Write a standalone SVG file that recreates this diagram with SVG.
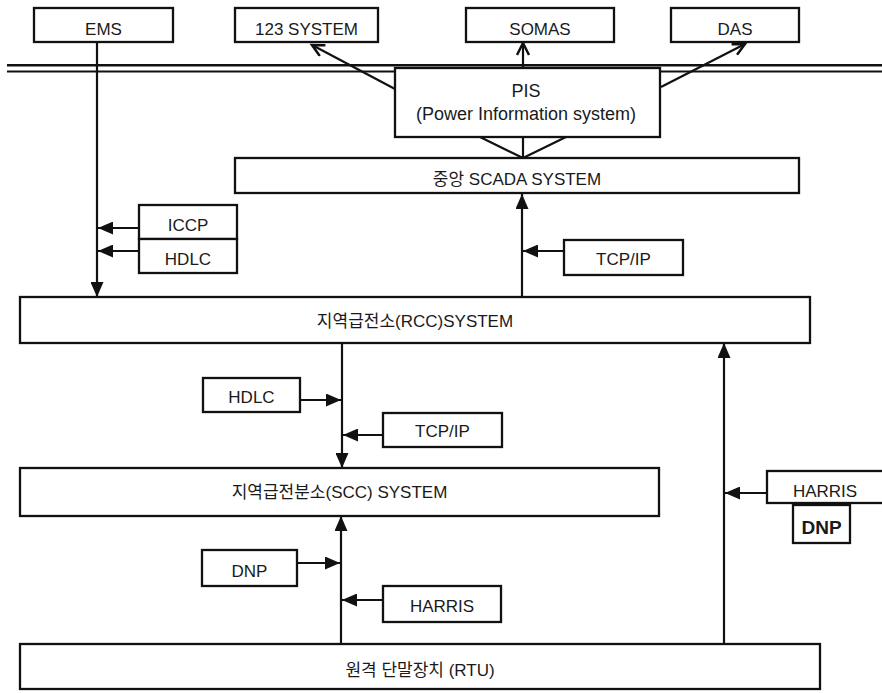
<svg xmlns="http://www.w3.org/2000/svg" width="882" height="693" viewBox="0 0 882 693">
<style>
.box{fill:#fff;stroke:#111;stroke-width:2.3}
.t{font-family:"Liberation Sans","Noto Sans CJK KR",sans-serif;font-size:17px;fill:#1a1a1a;text-anchor:middle}
.k{font-size:17px}
.c{stroke:#111;stroke-width:2.2;fill:none}
.bus{stroke:#111;fill:none}
</style>
<defs>
<marker id="fa" markerUnits="userSpaceOnUse" markerWidth="15" markerHeight="13" refX="15" refY="6.5" orient="auto">
<path d="M0,0 L15,6.5 L0,13 Z" fill="#111"/>
</marker>
<marker id="oa" markerUnits="userSpaceOnUse" markerWidth="16" markerHeight="14" refX="13" refY="7" orient="auto">
<path d="M1,1 L13,7 L1,13" fill="none" stroke="#111" stroke-width="2.5"/>
</marker>
</defs>
<rect width="882" height="693" fill="#fff"/>
<g id="bus">
<line class="bus" x1="7" y1="65.3" x2="882" y2="65.3" stroke-width="2.5"/>
<line class="bus" x1="7" y1="71.5" x2="882" y2="71.5" stroke-width="2"/>
</g>
<g id="connectors">
<line class="c" x1="97" y1="42" x2="97" y2="297" marker-end="url(#fa)"/>
<line class="c" x1="139" y1="228" x2="98" y2="228" marker-end="url(#fa)"/>
<line class="c" x1="139" y1="251" x2="98" y2="251" marker-end="url(#fa)"/>
<line class="c" x1="522" y1="297" x2="522" y2="194" marker-end="url(#fa)"/>
<line class="c" x1="564" y1="251" x2="523" y2="251" marker-end="url(#fa)"/>
<line class="c" x1="480" y1="137" x2="523" y2="158" stroke-width="3"/>
<line class="c" x1="523" y1="137" x2="523" y2="158"/>
<line class="c" x1="566" y1="137" x2="523" y2="158" stroke-width="3"/>
<line class="c" x1="395" y1="89" x2="312" y2="45" stroke-width="2.5" marker-end="url(#oa)"/>
<line class="c" x1="523" y1="68" x2="523" y2="43" stroke-width="2.5" marker-end="url(#oa)"/>
<line class="c" x1="661" y1="87" x2="745" y2="44" stroke-width="2.5" marker-end="url(#oa)"/>
<line class="c" x1="342" y1="343" x2="342" y2="468" marker-end="url(#fa)"/>
<line class="c" x1="300" y1="400" x2="341" y2="400" marker-end="url(#fa)"/>
<line class="c" x1="383" y1="435" x2="343" y2="435" marker-end="url(#fa)"/>
<line class="c" x1="341" y1="644" x2="341" y2="516" marker-end="url(#fa)"/>
<line class="c" x1="297" y1="563" x2="340" y2="563" marker-end="url(#fa)"/>
<line class="c" x1="383" y1="600" x2="342" y2="600" marker-end="url(#fa)"/>
<line class="c" x1="724" y1="644" x2="724" y2="343" marker-end="url(#fa)"/>
<line class="c" x1="767" y1="493" x2="725" y2="493" marker-end="url(#fa)"/>
</g>
<g id="ems"><rect class="box" x="34" y="8" width="139" height="34"/><text class="t" x="103.5" y="35">EMS</text></g>
<g id="sys123"><rect class="box" x="235" y="8" width="143" height="34"/><text class="t" x="306.5" y="35">123 SYSTEM</text></g>
<g id="somas"><rect class="box" x="466" y="8" width="148" height="34"/><text class="t" x="540" y="35">SOMAS</text></g>
<g id="das"><rect class="box" x="671" y="8" width="128" height="34"/><text class="t" x="735" y="35">DAS</text></g>
<g id="pis"><rect class="box" x="395" y="68" width="265" height="69"/>
<text class="t" x="526" y="97" style="font-size:18px">PIS</text>
<text class="t" x="526" y="120" style="font-size:18px">(Power Information system)</text></g>
<g id="scada"><rect class="box" x="235" y="158" width="564" height="35"/><text class="t k" x="517" y="185">중앙 SCADA SYSTEM</text></g>
<g id="iccp"><rect class="box" x="139" y="205" width="98" height="34"/><text class="t" x="188" y="231">ICCP</text></g>
<g id="hdlc1"><rect class="box" x="139" y="239" width="98" height="34"/><text class="t" x="188" y="265">HDLC</text></g>
<g id="tcpip1"><rect class="box" x="564" y="240" width="119" height="35"/><text class="t" x="623.5" y="265">TCP/IP</text></g>
<g id="rcc"><rect class="box" x="20" y="297" width="790" height="46"/><text class="t k" x="415" y="327">지역급전소(RCC)SYSTEM</text></g>
<g id="hdlc2"><rect class="box" x="203" y="378" width="97" height="34"/><text class="t" x="251.5" y="403">HDLC</text></g>
<g id="tcpip2"><rect class="box" x="383" y="413" width="119" height="34"/><text class="t" x="442.5" y="437">TCP/IP</text></g>
<g id="harris1"><rect class="box" x="767" y="471" width="117" height="32"/><text class="t" x="825" y="497">HARRIS</text></g>
<g id="dnp1"><rect class="box" x="793" y="505" width="57" height="38"/><text class="t" x="821.5" y="534" style="font-size:19px;font-weight:bold">DNP</text></g>
<g id="scc"><rect class="box" x="20" y="468" width="639" height="48"/><text class="t k" x="339.5" y="498">지역급전분소(SCC) SYSTEM</text></g>
<g id="dnp2"><rect class="box" x="202" y="550" width="95" height="36"/><text class="t" x="249.5" y="577">DNP</text></g>
<g id="harris2"><rect class="box" x="383" y="586" width="118" height="36"/><text class="t" x="442" y="612">HARRIS</text></g>
<g id="rtu"><rect class="box" x="20" y="644" width="800" height="45"/><text class="t k" x="420" y="676">원격 단말장치 (RTU)</text></g>
</svg>
